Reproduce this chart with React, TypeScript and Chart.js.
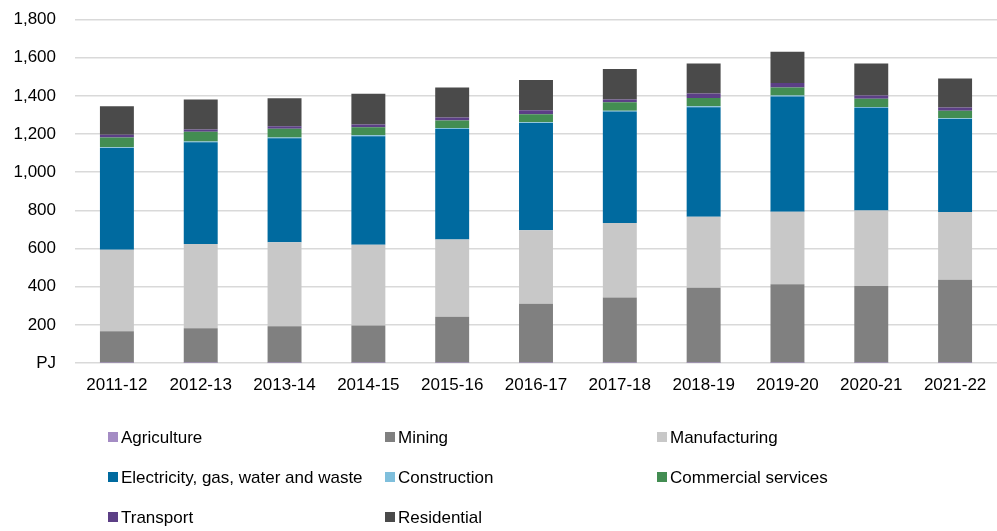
import { useEffect, useRef } from 'react';
import { Chart, registerables } from 'chart.js';

Chart.register(...registerables);

const categories = ['2011-12', '2012-13', '2013-14', '2014-15', '2015-16', '2016-17', '2017-18', '2018-19', '2019-20', '2020-21', '2021-22'];

const agriculture = [1, 1, 1, 1, 1, 1, 1, 1, 1, 1, 1];
const mining = [166, 181, 192, 195, 241, 309, 342, 393, 412, 402, 435];
const manufacturing = [426, 442, 440, 423, 405, 386, 390, 372, 379, 396, 355];
const electricity = [533, 533, 545, 569, 579, 561, 585, 574, 605, 538, 488];
const construction = [5, 4, 4, 5, 5, 5, 4, 5, 5, 4, 4];
const commercial = [51, 51, 45, 43, 40, 41, 44, 44, 42, 44, 39];
const transport = [14, 12, 14, 14, 16, 21, 15, 23, 23, 17, 17];
const residential = [150, 157, 146, 161, 157, 159, 159, 157, 164, 168, 152];

const seriesNames = ['Agriculture', 'Mining', 'Manufacturing', 'Electricity, gas, water and waste', 'Construction', 'Commercial services', 'Transport', 'Residential'];
const seriesValues = [agriculture, mining, manufacturing, electricity, construction, commercial, transport, residential];
const seriesColors = ['#a48cc4', '#808080', '#c8c8c8', '#006a9f', '#7fbfdc', '#438d52', '#5c3f86', '#4a4a4a'];

const yMin = 0;
const yMax = 1800;
const yStep = 200;
const zeroLabel = 'PJ';

const FONT = '"Liberation Sans", Arial, sans-serif';

const legendPlugin = {
  id: 'gridLegend',
  afterDraw(chart: any) {
    const ctx = chart.ctx;
    const cols = [108, 385, 657];
    const rows = [437, 477, 517];
    ctx.save();
    ctx.font = `17px ${FONT}`;
    ctx.textBaseline = 'middle';
    ctx.textAlign = 'left';
    chart.data.datasets.forEach((ds: any, i: number) => {
      const x = cols[i % 3];
      const y = rows[Math.floor(i / 3)];
      ctx.fillStyle = ds.backgroundColor;
      ctx.fillRect(x, y - 5, 10, 10);
      ctx.fillStyle = '#000';
      ctx.fillText(ds.label, x + 13, y + 1);
    });
    ctx.restore();
  },
};

export default function App() {
  const ref = useRef<HTMLCanvasElement | null>(null);

  useEffect(() => {
    if (!ref.current) return;
    const chart = new Chart(ref.current, {
      type: 'bar',
      data: {
        labels: categories,
        datasets: seriesNames.map((name, i) => ({
          label: name,
          data: seriesValues[i],
          backgroundColor: seriesColors[i],
          borderWidth: 0,
          categoryPercentage: 1,
          barPercentage: 0.405,
        })),
      },
      options: {
        animation: false,
        responsive: true,
        maintainAspectRatio: false,
        layout: { padding: { top: 19.5, left: 0, right: 0, bottom: 128 } },
        plugins: {
          legend: { display: false },
          tooltip: { enabled: false },
        },
        scales: {
          x: {
            stacked: true,
            grid: { display: false, drawTicks: false },
            border: { display: false },
            ticks: { color: '#000', font: { family: FONT, size: 17 }, padding: 12, maxRotation: 0 },
            afterFit: (s: any) => { s.height = 40; s.paddingLeft = 0; s.paddingRight = 0; },
          },
          y: {
            stacked: true,
            min: yMin,
            max: yMax,
            grid: { color: '#d9d9d9', lineWidth: 1.5, drawTicks: false, tickLength: 0 },
            border: { display: false },
            ticks: {
              stepSize: yStep,
              color: '#000',
              font: { family: FONT, size: 17 },
              padding: 19,
              callback: (v: any) => (Number(v) === 0 ? zeroLabel : Number(v).toLocaleString('en-US')),
            },
            afterFit: (s: any) => { s.width = 75; s.paddingTop = 0; s.paddingBottom = 0; },
          },
        },
      },
      plugins: [legendPlugin],
    });
    return () => chart.destroy();
  }, []);

  return (
    <div style={{ position: 'absolute', left: 0, top: 0, width: 997, height: 531, background: '#fff' }}>
      <canvas ref={ref} />
    </div>
  );
}
